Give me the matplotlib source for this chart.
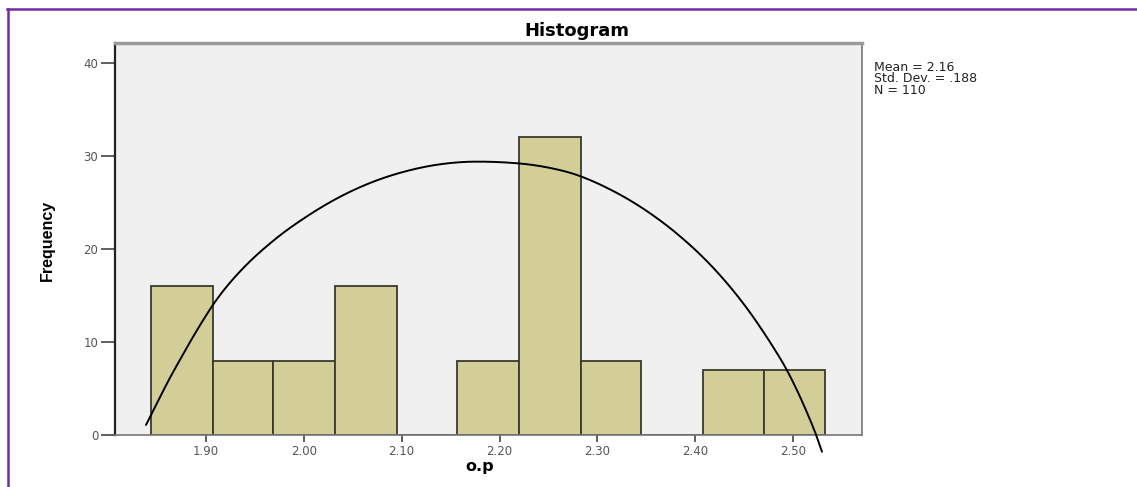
import numpy as np
import matplotlib
matplotlib.use("Agg")
import matplotlib.pyplot as plt
from matplotlib.lines import Line2D

# ---- data ----
bin_edges = [1.844, 1.907, 1.969, 2.032, 2.095, 2.157, 2.220, 2.283, 2.345, 2.408, 2.470, 2.533]
counts = [16, 8, 8, 16, 0, 8, 32, 8, 0, 7, 7]
curve_x = [1.8387, 1.8666, 1.9059, 1.9349, 1.9689, 2.0030, 2.0371, 2.0711,
           2.1053, 2.1393, 2.1734, 2.2177, 2.2500, 2.2807, 2.3165, 2.3507, 2.3847, 2.4188,
           2.4529, 2.4871, 2.5041, 2.5210, 2.5296]
curve_y = [1.08, 6.81, 13.80, 17.60, 20.90, 23.50, 25.62, 27.24,
           28.39, 29.11, 29.39, 29.22, 28.75, 27.90, 26.22, 24.07, 21.35, 17.94,
           13.62, 8.20, 4.80, 0.72, -1.80]
x_ticks = [1.90, 2.00, 2.10, 2.20, 2.30, 2.40, 2.50]
x_tick_labels = ["1.90", "2.00", "2.10", "2.20", "2.30", "2.40", "2.50"]
y_ticks = [0, 10, 20, 30, 40]
stats_lines = ["Mean = 2.16", "Std. Dev. = .188", "N = 110"]


def smooth_line(xs, ys, steps=16):
    """Cubic Hermite stroke through the read points (x-parameterised)."""
    x = np.asarray(xs, float)
    y = np.asarray(ys, float)
    m = np.empty_like(y)
    m[1:-1] = (y[2:] - y[:-2]) / (x[2:] - x[:-2])
    m[0] = (y[1] - y[0]) / (x[1] - x[0])
    m[-1] = (y[-1] - y[-2]) / (x[-1] - x[-2])
    ox, oy = [], []
    for i in range(len(x) - 1):
        h = x[i + 1] - x[i]
        t = np.linspace(0, 1, steps, endpoint=False)
        h00 = 2 * t ** 3 - 3 * t ** 2 + 1
        h10 = t ** 3 - 2 * t ** 2 + t
        h01 = -2 * t ** 3 + 3 * t ** 2
        h11 = t ** 3 - t ** 2
        ox.append(x[i] + t * h)
        oy.append(h00 * y[i] + h10 * h * m[i] + h01 * y[i + 1] + h11 * h * m[i + 1])
    ox.append([x[-1]])
    oy.append([y[-1]])
    return np.concatenate(ox), np.concatenate(oy)


W, H = 1137, 487
fig = plt.figure(figsize=(W / 100, H / 100), dpi=100)
fig.patch.set_facecolor("white")

def fx(px):
    return px / W

def fy(py):
    return 1 - py / H

ax = fig.add_axes([fx(115), fy(435), fx(862) - fx(115), fy(43) - fy(435)])
ax.set_facecolor("#F0F0F0")

widths = np.diff(bin_edges)
ax.bar(bin_edges[:-1], counts, width=widths, align="edge", color="#D3CE98",
       edgecolor="#3A3A30", linewidth=1.3, zorder=2)

sx, sy = smooth_line(curve_x, curve_y)
ax.plot(sx, sy, color="black", lw=1.4, zorder=3, clip_on=False,
        solid_joinstyle="round", solid_capstyle="round")

ax.set_xlim(1.807, 2.5705)
ax.set_ylim(0, 42.15)

ax.set_xticks(x_ticks)
ax.set_xticklabels(x_tick_labels)
ax.set_yticks(y_ticks)
ax.tick_params(axis="x", direction="out", length=5, width=1.2, color="#444444",
               labelsize=8.5, labelcolor="#555555", pad=2)
ax.tick_params(axis="y", direction="out", length=10, width=1.2, color="#444444",
               labelsize=8.5, labelcolor="#555555", pad=2)
for lab in ax.get_xticklabels() + ax.get_yticklabels():
    lab.set_fontfamily("DejaVu Sans")

for s in ["right", "bottom"]:
    ax.spines[s].set_color("#777777")
    ax.spines[s].set_linewidth(1.2)
ax.spines["top"].set_linewidth(2.5)
ax.spines["top"].set_color("#9A9A9A")
ax.spines["left"].set_color("#222222")
ax.spines["left"].set_linewidth(1.6)

# Titles / labels
fig.text(fx(577), fy(31), "Histogram", ha="center", va="center",
         fontsize=13, fontweight="bold", family="DejaVu Sans")
fig.text(fx(480), fy(467), "o.p", ha="center", va="center",
         fontsize=11.5, fontweight="bold", family="DejaVu Sans")
fig.text(fx(47), fy(240), "Frequency", ha="center", va="center", rotation=90,
         fontsize=11.5, fontweight="bold", family="Liberation Sans")

fig.text(fx(874), fy(61), "\n".join(stats_lines), ha="left", va="top",
         fontsize=9, family="DejaVu Sans", linespacing=0.85, color="#222222")

# Purple frame lines
fig.add_artist(Line2D([fx(7), 1], [fy(8.5), fy(8.5)], color="#7030A0", lw=1.8))
fig.add_artist(Line2D([fx(7.5), fx(7.5)], [fy(8.5), 0], color="#7030A0", lw=1.8))

fig.savefig("out.png", dpi=100)
